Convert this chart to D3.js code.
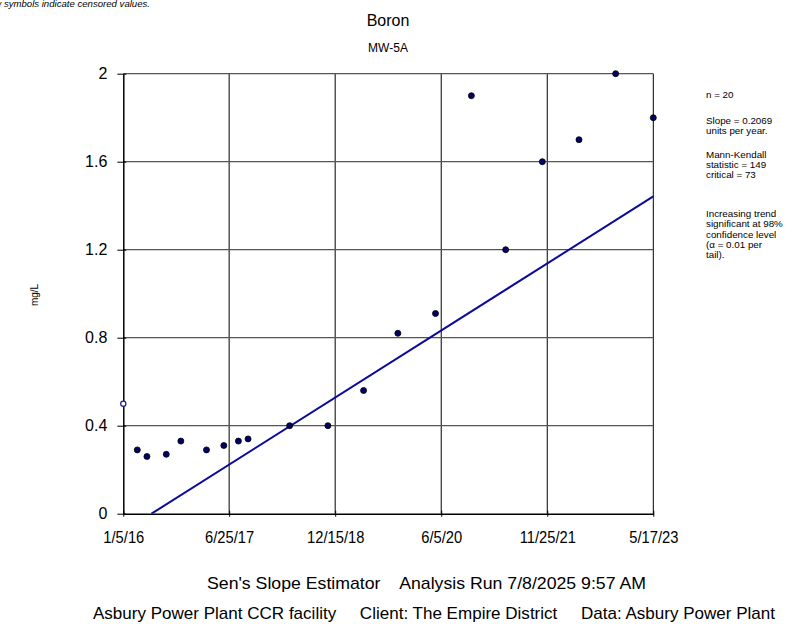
<!DOCTYPE html>
<html>
<head>
<meta charset="utf-8">
<script src="https://cdn.jsdelivr.net/npm/d3@7"></script>
<style>
  html, body { margin: 0; padding: 0; background: #fff; }
  svg { display: block; font-family: "Liberation Sans", Arial, sans-serif; }
</style>
</head>
<body>
<svg id="chart" width="800" height="624"></svg>
<script>
// Boron concentrations at MW-5A
const sampleDates = [
  "2016-01-05", "2016-03-16", "2016-05-04", "2016-08-10", "2016-10-23",
  "2017-03-02", "2017-05-29", "2017-08-11", "2017-09-29", "2018-04-28",
  "2018-11-08", "2019-05-08", "2019-10-29", "2020-05-07", "2020-11-05",
  "2021-04-28", "2021-10-31", "2022-05-05", "2022-11-07", "2023-05-17"
];
const boronValues = [
  0.50, 0.29, 0.26, 0.27, 0.33,
  0.29, 0.31, 0.33, 0.34, 0.40,
  0.40, 0.56, 0.82, 0.91, 1.90,
  1.20, 1.60, 1.70, 2.00, 1.80
];
const censored = [
  true, false, false, false, false,
  false, false, false, false, false,
  false, false, false, false, false,
  false, false, false, false, false
];
const xTickLabels = ["1/5/16", "6/25/17", "12/15/18", "6/5/20", "11/25/21", "5/17/23"];
const yTicks = [0, 0.4, 0.8, 1.2, 1.6, 2];

// Sen's slope estimate (units per year) and the date where the trend line crosses zero
const senSlope = 0.2069;
const senZeroDate = "2016-05-27";

const statsGroups = [
  ["n = 20"],
  ["Slope = 0.2069", "units per year."],
  ["Mann-Kendall", "statistic = 149", "critical = 73"],
  ["Increasing trend", "significant at 98%", "confidence level", "(\u03b1 = 0.01 per", "tail)."]
];
const footerLine1 = "Sen's Slope Estimator    Analysis Run 7/8/2025 9:57 AM";
const footerLine2 = "Asbury Power Plant CCR facility     Client: The Empire District     Data: Asbury Power Plant";

const parse = d3.timeParse("%Y-%m-%d");
const tickParse = d3.timeParse("%m/%d/%y");
const points = sampleDates.map((d, i) => ({ date: parse(d), value: boronValues[i], censored: censored[i] }));
const tickDates = xTickLabels.map(t => tickParse(t));

const svg = d3.select("#chart");
const plotLeft = 123.3, plotRight = 653.3, plotTop = 73.7, plotBottom = 513.7;

const x = d3.scaleTime().domain([tickDates[0], tickDates[tickDates.length - 1]]).range([plotLeft, plotRight]);
const y = d3.scaleLinear().domain([0, 2]).range([plotBottom, plotTop]);

// grid
const grid = svg.append("g");
grid.selectAll("line.v").data(tickDates.slice(1)).join("line")
  .attr("x1", d => x(d)).attr("x2", d => x(d))
  .attr("y1", plotTop).attr("y2", plotBottom)
  .attr("stroke", "#000").attr("stroke-width", 1);
grid.selectAll("line.h").data(yTicks.slice(1)).join("line")
  .attr("x1", plotLeft).attr("x2", plotRight)
  .attr("y1", d => y(d)).attr("y2", d => y(d))
  .attr("stroke", "#555").attr("stroke-width", 1.3);

// axes
const xAxis = d3.axisBottom(x).tickValues(tickDates).tickFormat((d, i) => xTickLabels[i]).tickSize(6).tickSizeOuter(0);
const gx = svg.append("g").attr("transform", `translate(0,${plotBottom})`).call(xAxis);
gx.select(".domain").attr("stroke", "#000").attr("stroke-width", 1.5);
gx.selectAll(".tick line").attr("stroke", "#000").attr("y1", -3).attr("y2", 3);
gx.selectAll(".tick text")
  .attr("font-size", 16).attr("font-family", "Liberation Sans, Arial, sans-serif").attr("fill", "#000")
  .attr("y", 29.5).attr("dy", 0)
  .each(function () {
    // slightly condensed lettering
    const w = this.getComputedTextLength();
    d3.select(this).attr("textLength", w * 0.92).attr("lengthAdjust", "spacingAndGlyphs");
  });

const yAxis = d3.axisLeft(y).tickValues(yTicks).tickFormat(d3.format("")).tickSize(6).tickSizeOuter(0);
const gy = svg.append("g").attr("transform", `translate(${plotLeft},0)`).call(yAxis);
gy.select(".domain").attr("stroke", "#000").attr("stroke-width", 1.5);
gy.selectAll(".tick line").attr("stroke", "#000").attr("x1", -6).attr("x2", 3);
gy.selectAll(".tick text").attr("font-size", 16).attr("font-family", "Liberation Sans, Arial, sans-serif").attr("fill", "#000").attr("x", -16);

// trend line
svg.append("clipPath").attr("id", "plotClip").append("rect")
  .attr("x", plotLeft).attr("y", plotTop).attr("width", plotRight - plotLeft).attr("height", plotBottom - plotTop);
const zeroDate = parse(senZeroDate);
const msPerYear = 365.25 * 24 * 3600 * 1000;
const trend = d => senSlope * (d - zeroDate) / msPerYear;
const trendDates = [zeroDate, tickDates[tickDates.length - 1]];
svg.append("path")
  .attr("clip-path", "url(#plotClip)")
  .attr("d", d3.line().x(d => x(d)).y(d => y(trend(d)))(trendDates))
  .attr("fill", "none").attr("stroke", "#0b0b9a").attr("stroke-width", 2);

// data points
svg.append("g").selectAll("circle").data(points).join("circle")
  .attr("cx", d => x(d.date)).attr("cy", d => y(d.value))
  .attr("r", d => d.censored ? 2.6 : 3)
  .attr("fill", d => d.censored ? "#fff" : "#000066")
  .attr("stroke", d => d.censored ? "#1a1a8c" : "#000")
  .attr("stroke-width", d => d.censored ? 1.2 : 0.8);

// titles
svg.append("text").attr("x", 388).attr("y", 26).attr("text-anchor", "middle")
  .attr("font-size", 16).text("Boron");
svg.append("text").attr("x", 388).attr("y", 52).attr("text-anchor", "middle")
  .attr("font-size", 12).text("MW-5A");
svg.append("text").attr("x", 150).attr("y", 7).attr("text-anchor", "end")
  .attr("font-size", 9.6).attr("font-style", "italic").text("Hollow symbols indicate censored values.");

// y label
svg.append("text").attr("transform", "translate(38,295) rotate(-90)").attr("text-anchor", "middle")
  .attr("font-size", 10).text("mg/L");

// stats block
const statsG = svg.append("g").attr("font-size", 9.8);
const groupStarts = [97.5, 123.5, 157.5, 217];
statsGroups.forEach((group, gi) => {
  group.forEach((line, li) => {
    statsG.append("text").attr("x", 706).attr("y", groupStarts[gi] + li * 10.3).text(line);
  });
});

// footer
svg.append("text").attr("x", 207).attr("y", 589)
  .attr("font-size", 17).attr("xml:space", "preserve")
  .attr("textLength", 439).attr("lengthAdjust", "spacingAndGlyphs").text(footerLine1);
svg.append("text").attr("x", 93).attr("y", 619)
  .attr("font-size", 17).attr("xml:space", "preserve")
  .attr("textLength", 682).attr("lengthAdjust", "spacingAndGlyphs").text(footerLine2);
</script>
</body>
</html>
